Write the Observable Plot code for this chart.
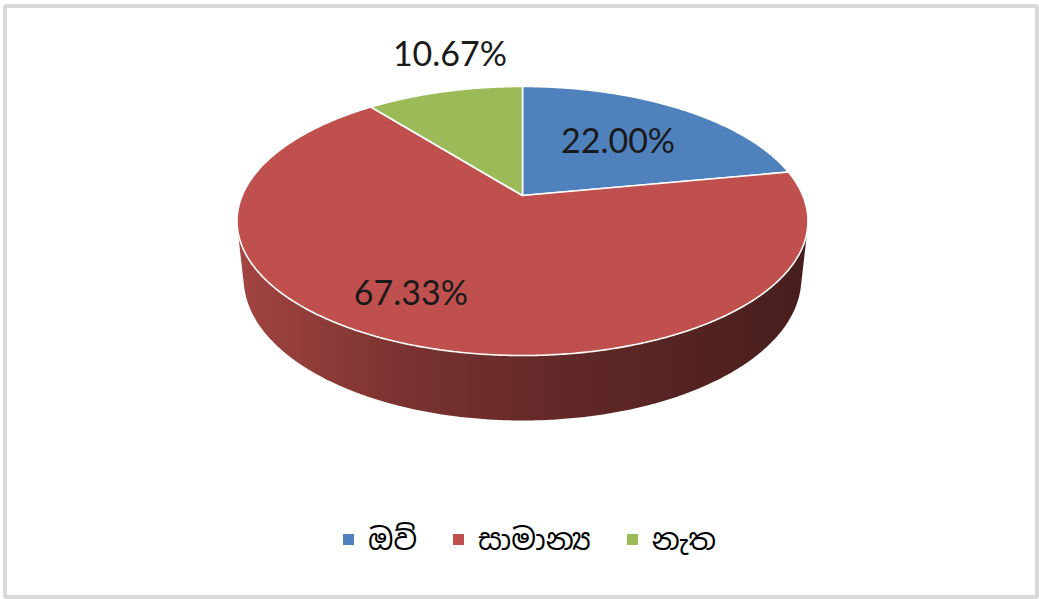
<!DOCTYPE html>
<html><head><meta charset="utf-8">
<script src="https://cdn.jsdelivr.net/npm/d3@7"></script>
<script src="https://cdn.jsdelivr.net/npm/@observablehq/plot@0.6"></script>
<style>
body{margin:0;background:#fff;}
#wrap{position:relative;width:1039px;height:599px;overflow:hidden;background:#fff;}
#border{position:absolute;left:3px;top:4px;width:1036px;height:595px;box-sizing:border-box;border:4px solid #d9d9d9;border-radius:3px;}
#chart{position:absolute;left:0;top:0;}
#legend{position:absolute;left:343px;top:521px;height:36px;display:flex;align-items:center;font-family:"Noto Sans Sinhala","Iskoola Pota","Noto Sans",sans-serif;font-size:29px;color:#000;}
.item{display:flex;align-items:center;margin-right:36px;}
.sw{width:11px;height:11px;margin-right:14px;}
</style></head>
<body><div id="wrap"><div id="border"></div><div id="chart"></div><div id="legend"></div></div>
<script>
// ---- data ----
const categories = ["ඔව්", "සාමාන්‍ය", "නැත"];
const values = [22.00, 67.33, 10.67];
const labels = ["22.00%", "67.33%", "10.67%"];

// ---- style / layout ----
const colors = ["#4f81bd", "#c0504d", "#9bbb59"];
const cam = {cx: 522, cy: 195, f: 1310.7, D: 4.676, tilt: 27.56, depth: 0.2327};
const labelR = [0.58, 0.75, 1.4];
const labelFrac = [0.5, 0.53, 0.65];
const wallStops = [[0, 0.85], [0.28, 0.64], [0.51, 0.53], [0.72, 0.46], [1, 0.37]];
const W = 1039, H = 599;

const a = cam.tilt * Math.PI / 180, sa = Math.sin(a), ca = Math.cos(a);
function proj(theta, r, bottom) {
  const u = r * Math.sin(theta), v = -r * Math.cos(theta);
  const Y = bottom ? -cam.depth : 0;
  const dep = cam.D - Y * sa - v * ca;
  const yu = Y * ca - v * sa;
  return {x: cam.cx + cam.f * u / dep, y: cam.cy - cam.f * yu / dep};
}
const total = d3.sum(values);
const slices = [];
let acc = 0;
values.forEach((v, i) => {
  const s = acc / total * 2 * Math.PI;
  acc += v;
  const e = acc / total * 2 * Math.PI;
  slices.push({i, s, e});
});
function arcPts(s, e, r, bottom) {
  const n = Math.max(2, Math.ceil((e - s) / (Math.PI / 180) * 2));
  const pts = [];
  for (let k = 0; k <= n; k++) pts.push(proj(s + (e - s) * k / n, r, bottom));
  return pts;
}
// silhouette of the cylinder
const v0 = 1 / (cam.D * ca);
const th1 = Math.acos(-v0), th2 = 2 * Math.PI - th1;

const marks = [];
// gradient defs
marks.push(() => {
  const defs = d3.create("svg:defs");
  slices.forEach(sl => {
    const g = defs.append("linearGradient").attr("id", "wall" + sl.i).attr("x1", 0).attr("x2", 1).attr("y1", 0).attr("y2", 0);
    const base = d3.rgb(colors[sl.i]);
    wallStops.forEach(([o, m]) => {
      g.append("stop").attr("offset", o).attr("stop-color", d3.rgb(base.r * m, base.g * m, base.b * m).formatHex());
    });
  });
  return defs.node();
});
// side walls
slices.forEach(sl => {
  const s = Math.max(sl.s, th1), e = Math.min(sl.e, th2);
  if (e <= s) return;
  const pts = arcPts(s, e, 1, false).concat(arcPts(s, e, 1, true).reverse());
  marks.push(Plot.line(pts, {x: "x", y: "y", fill: `url(#wall${sl.i})`, stroke: "none", curve: "linear"}));
});
// top faces
slices.forEach(sl => {
  const c = proj(0, 0, false);
  const pts = [c].concat(arcPts(sl.s, sl.e, 1, false), [c]);
  marks.push(Plot.line(pts, {x: "x", y: "y", fill: colors[sl.i], stroke: "#fff", strokeWidth: 1.6, strokeLinejoin: "round", curve: "linear"}));
});
// labels
const labelData = slices.map(sl => {
  const t = sl.s + (sl.e - sl.s) * labelFrac[sl.i];
  const p = proj(t, labelR[sl.i], false);
  return {x: p.x, y: p.y, text: labels[sl.i]};
});
marks.push(Plot.text(labelData, {x: "x", y: "y", text: "text", fontSize: 34, fill: "#1a1a1a", fontFamily: "Lato, 'Open Sans', sans-serif", textAnchor: "middle", lineAnchor: "middle"}));

const chart = Plot.plot({
  width: W, height: H,
  margin: 0,
  x: {domain: [0, W], range: [0, W], axis: null},
  y: {domain: [0, H], range: [0, H], axis: null},
  style: {background: "transparent", overflow: "visible"},
  marks
});
document.getElementById("chart").appendChild(chart);

const leg = document.getElementById("legend");
categories.forEach((c, i) => {
  const it = document.createElement("div"); it.className = "item";
  const sw = document.createElement("div"); sw.className = "sw"; sw.style.background = colors[i];
  const tx = document.createElement("span"); tx.textContent = c;
  it.appendChild(sw); it.appendChild(tx); leg.appendChild(it);
});
</script>
</body></html>
